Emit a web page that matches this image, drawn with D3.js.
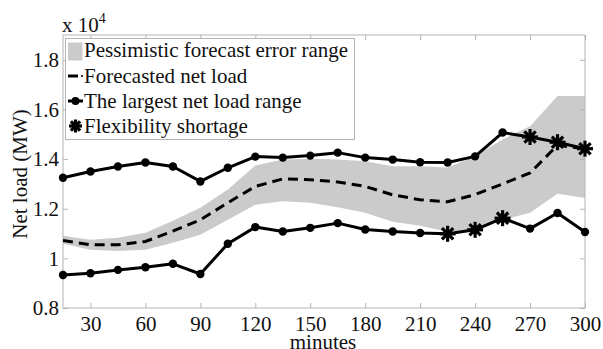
<!DOCTYPE html>
<html>
<head>
<meta charset="utf-8">
<script src="https://cdnjs.cloudflare.com/ajax/libs/d3/7.8.5/d3.min.js"></script>
<style>
  html, body { margin: 0; padding: 0; background: #fff; }
  svg { display: block; }
  svg text { font-family: "Liberation Serif", "Times New Roman", serif !important; }
</style>
</head>
<body>
<div id="chart"></div>
<script>
var minutes = [15, 30, 45, 60, 75, 90, 105, 120, 135, 150, 165, 180, 195, 210, 225, 240, 255, 270, 285, 300];
var upperRange = [13250, 13500, 13700, 13860, 13700, 13100, 13650, 14100, 14060, 14140, 14260, 14060, 13980, 13870, 13860, 14110, 15070, 14890, 14680, 14420];
var lowerRange = [9330, 9400, 9535, 9640, 9780, 9370, 10590, 11260, 11080, 11230, 11420, 11160, 11080, 11020, 10990, 11150, 11620, 11200, 11830, 11060];
var forecast = [10720, 10545, 10545, 10680, 11100, 11550, 12240, 12900, 13200, 13170, 13080, 12900, 12560, 12360, 12280, 12570, 13000, 13440, 14560, 14420];
var bandTop = [10910, 10750, 10830, 11030, 11515, 12040, 12770, 13740, 13980, 14010, 13980, 13910, 13710, 13710, 13660, 14110, 14790, 15325, 16540, 16540];
var bandBottom = [10585, 10345, 10300, 10345, 10625, 10950, 11555, 12160, 12300, 12240, 12060, 11840, 11475, 11310, 11070, 11150, 11555, 11840, 12600, 12430];
// flexibility shortage points: [minute, value]
var shortage = [[225, 10990], [240, 11150], [255, 11620], [270, 14890], [285, 14680], [300, 14420]];
var xTicks = [30, 60, 90, 120, 150, 180, 210, 240, 270, 300];
var yTicks = [8000, 10000, 12000, 14000, 16000, 18000];
var legendLabels = ["Pessimistic forecast error range", "Forecasted net load", "The largest net load range", "Flexibility shortage"];

var width = 603, height = 349;
var mLeft = 63, mRight = 585, mTop = 35, mBottom = 308;
var serif = "Liberation Serif, serif";

var svg = d3.select("#chart").append("svg")
  .attr("width", width).attr("height", height)
  .attr("font-family", serif);

var x = d3.scaleLinear().domain([15, 300]).range([mLeft, mRight]);
var y = d3.scaleLinear().domain([8000, 19000]).range([mBottom, mTop]);

var idx = d3.range(minutes.length);

// band
var area = d3.area()
  .x(function(i) { return x(minutes[i]); })
  .y0(function(i) { return y(bandBottom[i]); })
  .y1(function(i) { return y(bandTop[i]); });
svg.append("path").datum(idx)
  .attr("d", area).attr("fill", "#cbcbcb");

// axes box
var gray = "#b4b4b4";
svg.append("rect")
  .attr("x", mLeft).attr("y", mTop)
  .attr("width", mRight - mLeft).attr("height", mBottom - mTop)
  .attr("fill", "none").attr("stroke", gray).attr("stroke-width", 1);

var xAxis = d3.axisBottom(x).tickValues(xTicks).tickSize(-5).tickPadding(8);
var gx = svg.append("g").attr("transform", "translate(0," + mBottom + ")").call(xAxis);
var xTop = d3.axisTop(x).tickValues(xTicks).tickSize(-5).tickFormat("");
var gxt = svg.append("g").attr("transform", "translate(0," + mTop + ")").call(xTop);

var yAxis = d3.axisLeft(y).tickValues(yTicks).tickSize(-5).tickPadding(4)
  .tickFormat(function(d) { return d3.format("")(d / 10000); });
var gy = svg.append("g").attr("transform", "translate(" + mLeft + ",0)").call(yAxis);
var yRight = d3.axisRight(y).tickValues(yTicks).tickSize(-5).tickFormat("");
var gyr = svg.append("g").attr("transform", "translate(" + mRight + ",0)").call(yRight);

[gx, gxt, gy, gyr].forEach(function(g) {
  g.attr("font-family", serif);
  g.select(".domain").remove();
  g.selectAll(".tick line").attr("stroke", gray);
  g.selectAll("text").attr("font-size", 21).attr("fill", "#111")
    .attr("font-family", serif);
});
gx.selectAll("text").attr("dy", "0.71em");

// exponent
var expo = svg.append("text").attr("x", 62).attr("y", 32)
  .attr("font-size", 21).attr("fill", "#111");
expo.append("tspan").text("x 10");
expo.append("tspan").attr("dy", -9).attr("font-size", 14).text("4");

// axis titles
svg.append("text").attr("x", 323).attr("y", 349)
  .attr("text-anchor", "middle").attr("font-size", 21).attr("fill", "#111")
  .text("minutes");
svg.append("text")
  .attr("transform", "translate(27,174) rotate(-90)")
  .attr("text-anchor", "middle").attr("font-size", 21).attr("fill", "#111")
  .text("Net load (MW)");

// lines
var line = function(vals) {
  return d3.line()
    .x(function(i) { return x(minutes[i]); })
    .y(function(i) { return y(vals[i]); })(idx);
};
svg.append("path").attr("d", line(forecast))
  .attr("fill", "none").attr("stroke", "#000").attr("stroke-width", 3)
  .attr("stroke-dasharray", "10,6");

[upperRange, lowerRange].forEach(function(vals) {
  svg.append("path").attr("d", line(vals))
    .attr("fill", "none").attr("stroke", "#000").attr("stroke-width", 3)
    .attr("stroke-linejoin", "round");
  svg.selectAll(null).data(idx).enter().append("circle")
    .attr("cx", function(i) { return x(minutes[i]); })
    .attr("cy", function(i) { return y(vals[i]); })
    .attr("r", 4.2).attr("fill", "#000");
});

function star(g, cx, cy, r) {
  for (var k = 0; k < 4; k++) {
    var a = k * Math.PI / 4;
    g.append("line")
      .attr("x1", cx - r * Math.cos(a)).attr("y1", cy - r * Math.sin(a))
      .attr("x2", cx + r * Math.cos(a)).attr("y2", cy + r * Math.sin(a))
      .attr("stroke", "#000").attr("stroke-width", 3.2);
  }
  g.append("circle").attr("cx", cx).attr("cy", cy).attr("r", 3.5).attr("fill", "#000");
}
shortage.forEach(function(d) { star(svg, x(d[0]), y(d[1]), 8); });

// legend
var lg = svg.append("g");
lg.append("rect").attr("x", 65.5).attr("y", 38.5).attr("width", 289).attr("height", 101)
  .attr("fill", "#fff").attr("stroke", gray).attr("stroke-width", 1);
var rowY = [57, 83, 108, 133];
lg.append("rect").attr("x", 68).attr("y", 42.5).attr("width", 14.5).attr("height", 18)
  .attr("fill", "#cbcbcb");
lg.append("line").attr("x1", 68).attr("x2", 78).attr("y1", rowY[1] - 7).attr("y2", rowY[1] - 7)
  .attr("stroke", "#000").attr("stroke-width", 3);
lg.append("circle").attr("cx", 82).attr("cy", rowY[1] - 7).attr("r", 1).attr("fill", "#000");
lg.append("line").attr("x1", 68).attr("x2", 83).attr("y1", rowY[2] - 7).attr("y2", rowY[2] - 7)
  .attr("stroke", "#000").attr("stroke-width", 3);
lg.append("circle").attr("cx", 75.5).attr("cy", rowY[2] - 7).attr("r", 4).attr("fill", "#000");
star(lg, 75.5, rowY[3] - 7, 6.5);
legendLabels.forEach(function(t, i) {
  lg.append("text").attr("x", 84).attr("y", rowY[i])
    .attr("font-size", 21).attr("fill", "#111").text(t);
});
</script>
</body>
</html>
